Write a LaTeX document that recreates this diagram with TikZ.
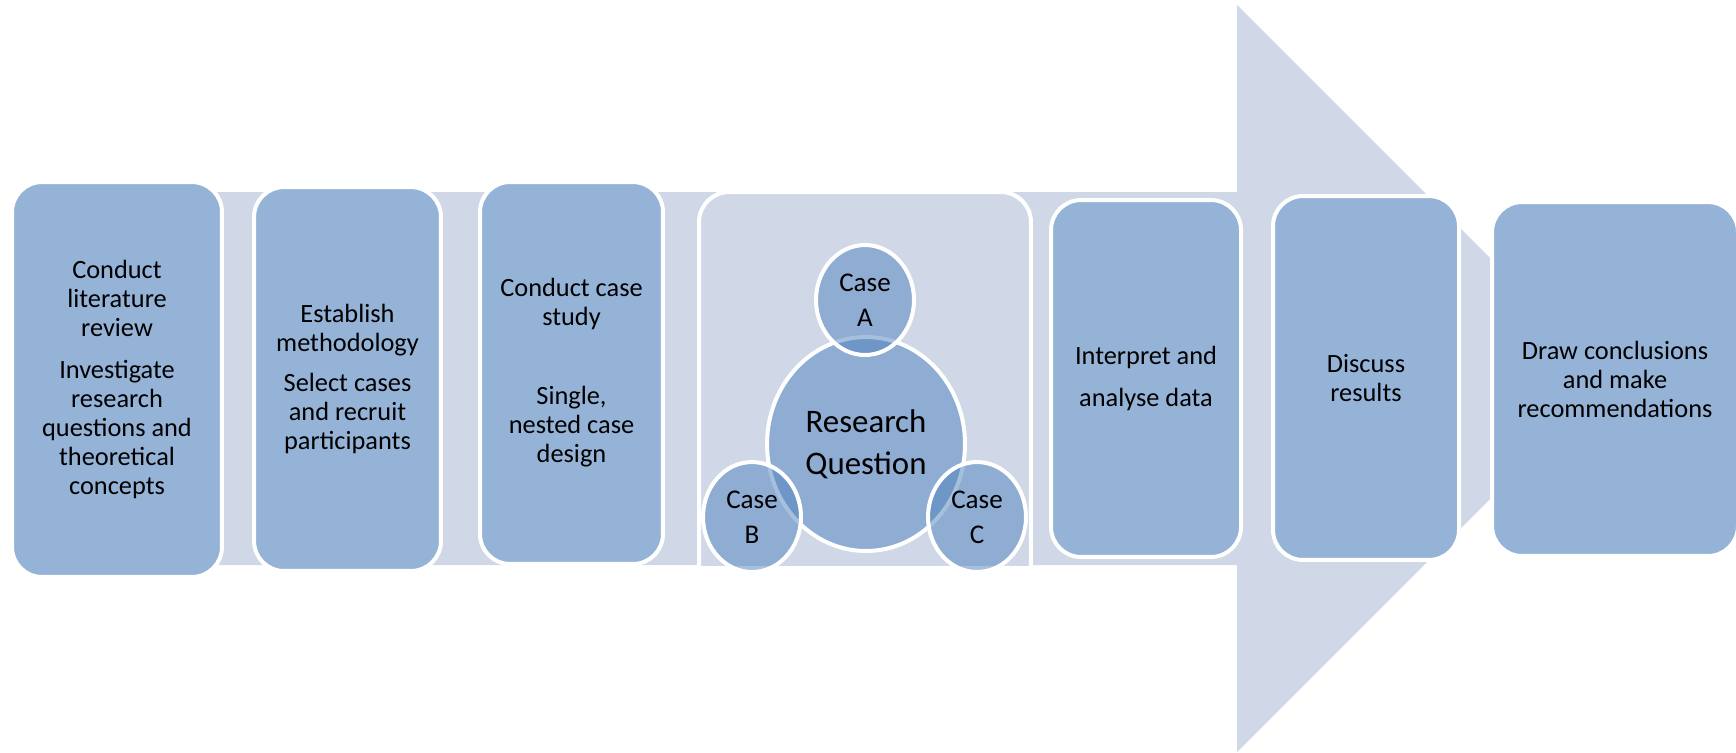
\documentclass[tikz,border=0pt]{standalone}
\usepackage{fontspec}
\setmainfont{Carlito}
\usepackage{tikz}
\usetikzlibrary{shapes.geometric}
\definecolor{arrowfill}{HTML}{D0D8E8}
\definecolor{boxfill}{HTML}{95B3D7}
\definecolor{casefill}{HTML}{4F81BD}

\begin{document}
\begin{tikzpicture}[x=0.02cm,y=-0.02cm]
    \tikzstyle{stage}=[rectangle, rounded corners=0.6cm, draw=white, line width=0.08cm, fill=boxfill, align=center, inner sep=2pt, font=\fontsize{15}{16.5}\selectfont]
    \tikzstyle{case}=[ellipse, draw=white, line width=0.08cm, fill=casefill, fill opacity=0.5, text opacity=1, inner sep=0pt, align=center, minimum width=1.96cm, minimum height=2.2cm, font=\fontsize{15.4}{19.9}\selectfont]
    \useasboundingbox (0,0) rectangle (1736,752);
    \fill[arrowfill] (60,192) -- (1237,192) -- (1237,5) -- (1610.5,378.5) -- (1237,752) -- (1237,565) -- (60,565) -- cycle;
    \node[stage, minimum width=4.2cm, minimum height=7.9cm] (Lit) at (117,379.5) {Conduct\\literature\\review\\[0.26cm]Investigate\\research\\questions and\\theoretical\\concepts};
    \node[stage, minimum width=3.74cm, minimum height=7.68cm] (Meth) at (347.5,379) {Establish\\methodology\\[0.22cm]Select cases\\and recruit\\participants};
    \node[stage, minimum width=3.66cm, minimum height=7.64cm] (Study) at (571.5,373) {Conduct case\\study\\[1cm]Single,\\nested case\\design};
    \begin{scope}
        \clip (0,0) rectangle (1736,565);
        \node[stage, fill=arrowfill, minimum width=6.64cm, minimum height=8.16cm] (Cases) at (865,396) {};
    \end{scope}
    \node[case, minimum width=3.96cm, minimum height=4.28cm, font=\fontsize{18.7}{23.7}\selectfont] (RQ) at (866,444) {Research\\Question};
    \node[case] (CA) at (865,300) {Case\\A};
    \node[case] (CB) at (752,517) {Case\\B};
    \node[case] (CC) at (977,517) {Case\\C};
    \node[stage, minimum width=3.8cm, minimum height=7.14cm] (Data) at (1146,378.5) {Interpret and\\[0.26cm]analyse data};
    \node[stage, minimum width=3.72cm, minimum height=7.28cm] (Disc) at (1366,378) {Discuss\\results};
    \node[stage, minimum width=4.92cm, minimum height=7.08cm] (Concl) at (1615,379) {Draw conclusions\\and make\\recommendations};
\end{tikzpicture}
\end{document}
